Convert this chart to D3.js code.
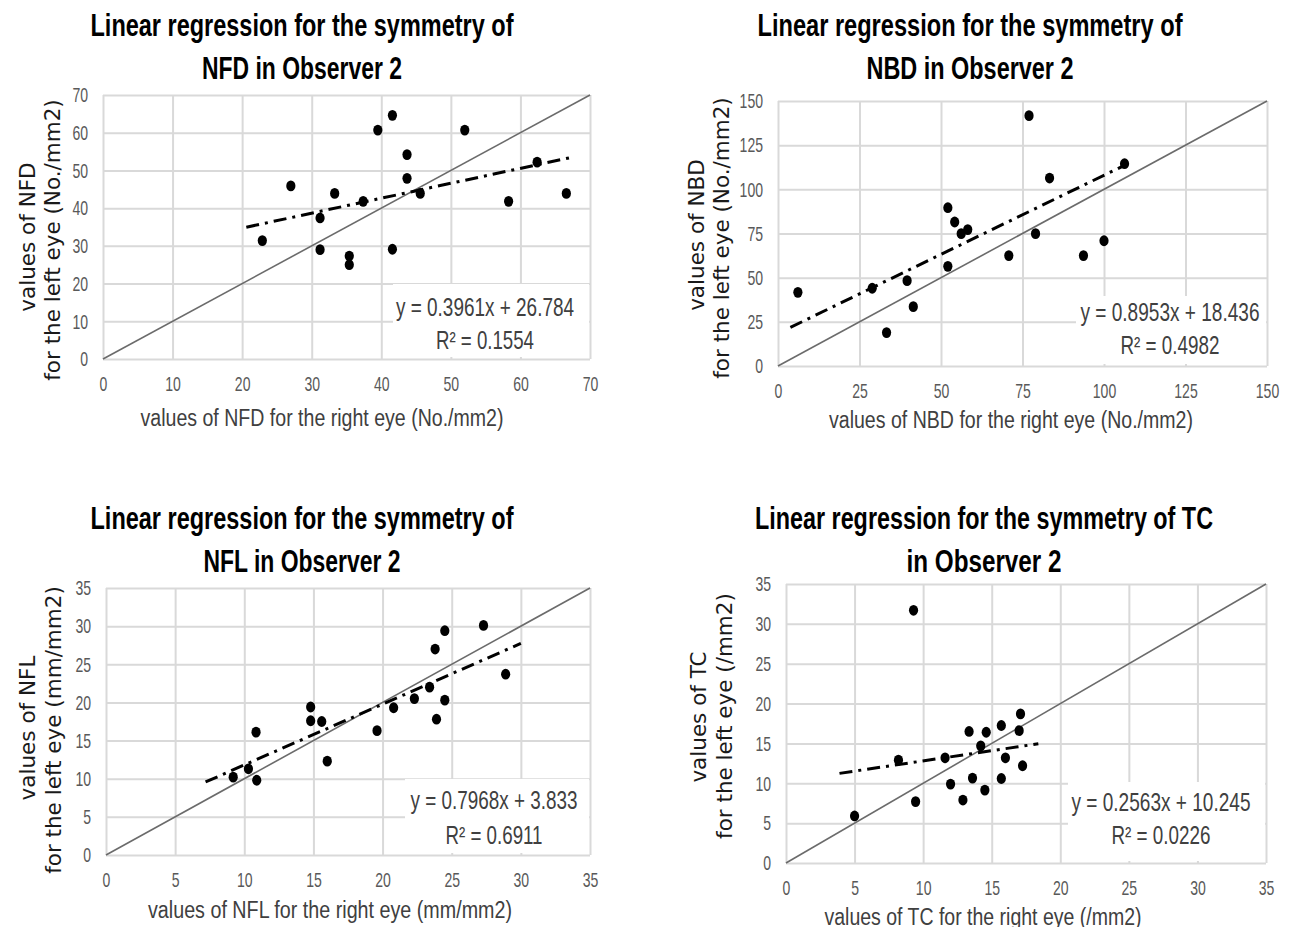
<!DOCTYPE html>
<html>
<head>
<meta charset="utf-8">
<script src="https://cdn.jsdelivr.net/npm/d3@7"></script>
<style>
  body { margin: 0; background: #fff; }
  svg { display: block; }
</style>
</head>
<body>
<div id="chart"></div>
<script>
// values (right eye = x, left eye = y)
const nfdRight = [22.9, 27.0, 31.2, 31.2, 33.3, 35.4, 35.4, 37.4, 39.5, 41.6, 41.6, 43.7, 43.7, 45.6, 52.0, 58.3, 62.4, 66.6];
const nfdLeft  = [31.4, 45.9, 37.4, 29.0, 43.9, 27.3, 25.0, 41.8, 60.7, 64.6, 29.1, 54.2, 47.9, 43.9, 60.7, 41.8, 52.2, 43.9];

const nbdRight = [6.1, 28.9, 33.3, 39.6, 41.5, 52.1, 52.1, 54.2, 56.2, 58.2, 70.8, 77.0, 79.0, 83.3, 93.7, 100.0, 106.3];
const nbdLeft  = [41.7, 44.0, 18.9, 48.3, 33.6, 89.6, 56.4, 81.5, 74.9, 77.2, 62.5, 141.7, 74.9, 106.4, 62.5, 70.9, 114.5];

const nflRight = [9.2, 10.3, 10.85, 10.9, 14.8, 14.8, 15.6, 16.0, 19.6, 20.8, 22.3, 23.4, 23.8, 23.9, 24.5, 24.5, 27.3, 28.9];
const nflLeft  = [10.2, 11.3, 16.1, 9.8, 19.4, 17.6, 17.5, 12.3, 16.3, 19.3, 20.5, 22.0, 27.0, 17.8, 29.4, 20.3, 30.1, 23.7];

const tcRight = [5.0, 8.2, 9.3, 9.45, 11.6, 12.0, 12.9, 13.35, 13.6, 14.2, 14.5, 14.6, 15.7, 15.7, 16.0, 17.0, 17.1, 17.25];
const tcLeft  = [5.9, 12.9, 31.7, 7.7, 13.2, 9.9, 7.9, 16.5, 10.65, 14.7, 9.15, 16.4, 17.25, 10.6, 13.2, 16.6, 18.7, 12.2];

// axis ticks
const ticksNFD = [0, 10, 20, 30, 40, 50, 60, 70];
const ticksNBD = [0, 25, 50, 75, 100, 125, 150];
const ticks35  = [0, 5, 10, 15, 20, 25, 30, 35];

// trend lines (slope, intercept, x-extent of the drawn line)
const slopes     = [0.3961, 0.8953, 0.7968, 0.2563];
const intercepts = [26.784, 18.436, 3.833, 10.245];
const trendFrom  = [20.6, 3.8, 7.2, 3.9];
const trendTo    = [67.8, 106.3, 30.0, 18.4];
const r2Values   = ["0.1554", "0.4982", "0.6911", "0.0226"];

const width = 1291, height = 927;
const svg = d3.select("#chart").append("svg")
  .attr("width", width)
  .attr("height", height);

const narrow = "'Liberation Sans Narrow', 'Arial Narrow', 'Liberation Sans', sans-serif";
const wide = "'DejaVu Sans', Verdana, sans-serif";

const panels = [
  {
    xs: nfdRight, ys: nfdLeft, ticks: ticksNFD, i: 0,
    plot: {l: 103, r: 590, t: 95, b: 359},
    title: ["Linear regression for the symmetry of", "NFD in Observer 2"],
    titleX: 302, titleY: [25, 68], titleLen: [423, 200],
    xTitle: "values of NFD for the right eye (No./mm2)", xTitleX: 322, xTitleY: 418, xTitleLen: 363,
    yTitle: ["values of NFD", "for the left eye  (No./mm2)"], yTitleX: [35, 60], yTitleY: [237, 240],
    box: {x: 393, y: 284, w: 196, h: 73}, eqX: 485, eqY: [307, 340], eqLen: [178, 98]
  },
  {
    xs: nbdRight, ys: nbdLeft, ticks: ticksNBD, i: 1,
    plot: {l: 778, r: 1267, t: 101, b: 366},
    title: ["Linear regression for the symmetry of", "NBD in Observer 2"],
    titleX: 970, titleY: [25, 68], titleLen: [425, 207],
    xTitle: "values of NBD for the right eye (No./mm2)", xTitleX: 1011, xTitleY: 420, xTitleLen: 364,
    yTitle: ["values of NBD", "for the left eye  (No./mm2)"], yTitleX: [704, 729], yTitleY: [235, 238],
    box: {x: 1076, y: 296, w: 190, h: 68}, eqX: 1170, eqY: [312, 345], eqLen: [179, 99]
  },
  {
    xs: nflRight, ys: nflLeft, ticks: ticks35, i: 2,
    plot: {l: 106, r: 590, t: 588, b: 855},
    title: ["Linear regression for the symmetry of", "NFL in Observer 2"],
    titleX: 302, titleY: [518, 561], titleLen: [423, 197],
    xTitle: "values of NFL for the right eye (mm/mm2)", xTitleX: 330, xTitleY: 910, xTitleLen: 364,
    yTitle: ["values of NFL", "for the left eye  (mm/mm2)"], yTitleX: [35, 61], yTitleY: [728, 730],
    box: {x: 405, y: 779, w: 184, h: 74}, eqX: 494, eqY: [800, 835], eqLen: [167, 97]
  },
  {
    xs: tcRight, ys: tcLeft, ticks: ticks35, i: 3,
    plot: {l: 786, r: 1266, t: 584, b: 863},
    title: ["Linear regression for the symmetry of TC", "in Observer 2"],
    titleX: 984, titleY: [518, 561], titleLen: [458, 155],
    xTitle: "values of TC for the right eye (/mm2)", xTitleX: 983, xTitleY: 917, xTitleLen: 317,
    yTitle: ["values of TC", "for the left eye (/mm2)"], yTitleX: [706, 732], yTitleY: [717, 716],
    box: {x: 1068, y: 782, w: 197, h: 79}, eqX: 1161, eqY: [802, 835], eqLen: [179, 99]
  }
];

function drawPanel(p) {
  const max = p.ticks[p.ticks.length - 1];
  const x = d3.scaleLinear().domain([0, max]).range([p.plot.l, p.plot.r]);
  const y = d3.scaleLinear().domain([0, max]).range([p.plot.b, p.plot.t]);
  const g = svg.append("g");

  // gridlines + tick labels through d3 axes
  const xAxis = g.append("g")
    .attr("transform", `translate(0,${p.plot.b})`)
    .call(d3.axisBottom(x).tickValues(p.ticks).tickSize(-(p.plot.b - p.plot.t)).tickPadding(17));
  const yAxis = g.append("g")
    .attr("transform", `translate(${p.plot.l},0)`)
    .call(d3.axisLeft(y).tickValues(p.ticks).tickSize(-(p.plot.r - p.plot.l)).tickPadding(15));

  [xAxis, yAxis].forEach(a => {
    a.select(".domain").remove();
    a.selectAll("line").attr("stroke", "#d9d9d9").attr("stroke-width", 2);
    // narrow, tall digits like the Calibri labels of the original
    a.selectAll("text")
      .attr("fill", "#595959")
      .attr("textLength", d => String(d).length * 7.8)
      .attr("lengthAdjust", "spacingAndGlyphs")
      .style("font-family", narrow)
      .style("font-size", "21px");
  });

  // white box behind the equation
  g.append("rect")
    .attr("x", p.box.x).attr("y", p.box.y)
    .attr("width", p.box.w).attr("height", p.box.h)
    .attr("fill", "#fff");

  // y = x line
  g.append("line")
    .attr("x1", x(0)).attr("y1", y(0))
    .attr("x2", x(max)).attr("y2", y(max))
    .attr("stroke", "#6b6b6b")
    .attr("stroke-width", 1.6);

  // trend line
  const k = slopes[p.i], c = intercepts[p.i];
  g.append("line")
    .attr("x1", x(trendFrom[p.i])).attr("y1", y(k * trendFrom[p.i] + c))
    .attr("x2", x(trendTo[p.i])).attr("y2", y(k * trendTo[p.i] + c))
    .attr("stroke", "#000")
    .attr("stroke-width", 3)
    .attr("stroke-dasharray", "13,6,3,6");

  // points
  g.selectAll("ellipse")
    .data(p.xs.map((v, j) => [v, p.ys[j]]))
    .enter()
    .append("ellipse")
    .attr("cx", d => x(d[0]))
    .attr("cy", d => y(d[1]))
    .attr("rx", 4.6)
    .attr("ry", 5.4)
    .attr("fill", "#000");

  // equation text
  const sign = c >= 0 ? "+" : "-";
  const eq = [`y = ${k}x ${sign} ${c}`, `R\u00b2 = ${r2Values[p.i]}`];
  eq.forEach((t, j) => {
    g.append("text")
      .attr("x", p.eqX).attr("y", p.eqY[j])
      .attr("text-anchor", "middle")
      .attr("dominant-baseline", "central")
      .attr("textLength", p.eqLen[j])
      .attr("lengthAdjust", "spacingAndGlyphs")
      .attr("fill", "#404040")
      .style("font-family", narrow)
      .style("font-size", "26px")
      .text(t);
  });

  // titles
  p.title.forEach((t, j) => {
    g.append("text")
      .attr("x", p.titleX).attr("y", p.titleY[j])
      .attr("text-anchor", "middle")
      .attr("dominant-baseline", "central")
      .attr("textLength", p.titleLen[j])
      .attr("lengthAdjust", "spacingAndGlyphs")
      .attr("fill", "#000")
      .style("font-family", narrow)
      .style("font-weight", "bold")
      .style("font-size", "31px")
      .text(t);
  });

  // x axis title
  g.append("text")
    .attr("x", p.xTitleX).attr("y", p.xTitleY)
    .attr("text-anchor", "middle")
    .attr("dominant-baseline", "central")
    .attr("textLength", p.xTitleLen)
    .attr("lengthAdjust", "spacingAndGlyphs")
    .attr("fill", "#404040")
    .style("font-family", narrow)
    .style("font-size", "23px")
    .text(p.xTitle);

  // y axis title, two rotated lines
  p.yTitle.forEach((t, j) => {
    g.append("text")
      .attr("transform", `translate(${p.yTitleX[j]},${p.yTitleY[j]}) rotate(-90)`)
      .attr("text-anchor", "middle")
      .attr("fill", "#1a1a1a")
      .style("font-family", wide)
      .style("font-size", "21.5px")
      .text(t);
  });
}

panels.forEach(drawPanel);
</script>
</body>
</html>
